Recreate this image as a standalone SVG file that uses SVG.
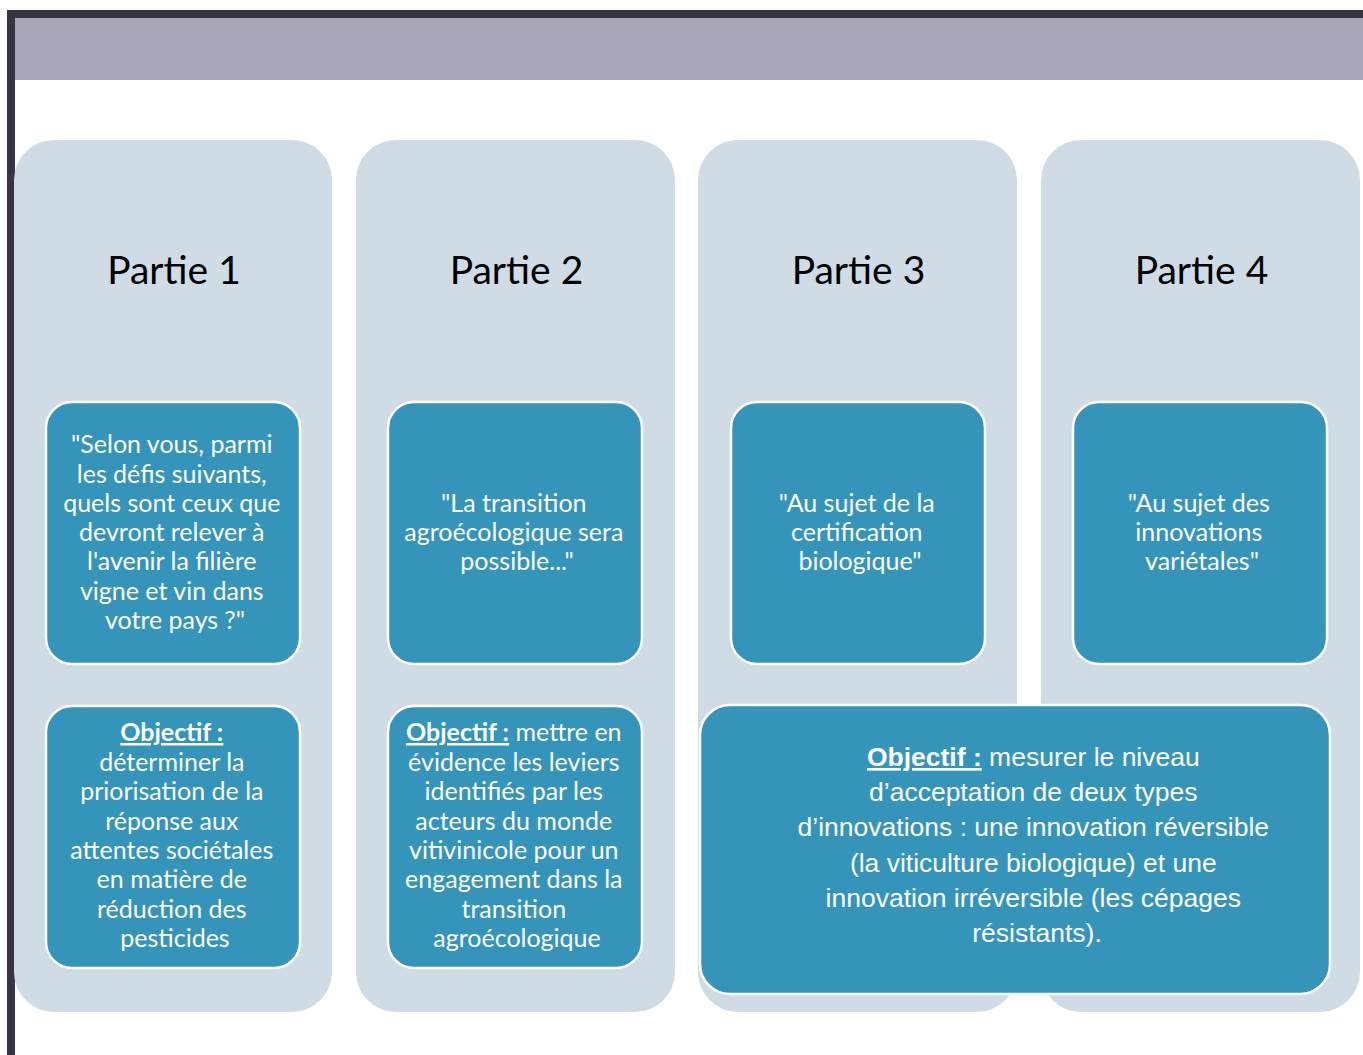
<svg xmlns="http://www.w3.org/2000/svg" width="1363" height="1055" viewBox="0 0 1363 1055">
<style>
.col{fill:#CFDCE6}
.box{fill:#3594BA;stroke:#FFFFFF;stroke-width:2.5}
.title{font-family:Lato,"Open Sans",sans-serif;font-size:39px;fill:#000;text-anchor:middle}
.t{font-family:Lato,"Open Sans",sans-serif;font-size:25px;fill:#FFFFFF;text-anchor:middle}
.a{font-family:"Liberation Sans",Arial,sans-serif;font-size:26.5px;fill:#FFFFFF;text-anchor:middle}
.b{font-weight:bold;text-decoration:underline}
</style>
<rect x="0" y="0" width="1363" height="1055" fill="#FFFFFF"/>
<g id="frame">
<rect x="7" y="10" width="1356" height="8" fill="#363445"/>
<rect x="7" y="10" width="8" height="1045" fill="#363445"/>
<rect x="15" y="18" width="1348" height="62" fill="#A9A6BA"/>
</g>
<g id="partie1">
<rect class="col" x="14" y="140" width="318" height="872" rx="40"/>
<text class="title" x="174" y="284">Partie 1</text>
</g>
<g id="partie2">
<rect class="col" x="356" y="140" width="319" height="872" rx="40"/>
<text class="title" x="516.5" y="284">Partie 2</text>
</g>
<g id="partie3">
<rect class="col" x="698" y="140" width="319" height="872" rx="40"/>
<text class="title" x="858.5" y="284">Partie 3</text>
</g>
<g id="partie4">
<rect class="col" x="1041" y="140" width="319" height="872" rx="40"/>
<text class="title" x="1201.5" y="284">Partie 4</text>
</g>
<g id="q1">
<rect class="box" x="46" y="402" width="254" height="262" rx="26"/>
<text class="t">
<tspan x="175" y="453">"Selon vous, parmi</tspan>
<tspan x="175" y="483">les défis suivants,</tspan>
<tspan x="175" y="512">quels sont ceux que</tspan>
<tspan x="175" y="541">devront relever à</tspan>
<tspan x="175" y="570">l'avenir la filière</tspan>
<tspan x="175" y="600">vigne et vin dans</tspan>
<tspan x="175" y="629">votre pays ?"</tspan>
</text>
</g>
<g id="q2">
<rect class="box" x="388" y="402" width="254" height="262" rx="26"/>
<text class="t">
<tspan x="517" y="512">"La transition</tspan>
<tspan x="517" y="541">agroécologique sera</tspan>
<tspan x="517" y="570">possible..."</tspan>
</text>
</g>
<g id="q3">
<rect class="box" x="731" y="402" width="254" height="262" rx="26"/>
<text class="t">
<tspan x="860" y="512">"Au sujet de la</tspan>
<tspan x="860" y="541">certification</tspan>
<tspan x="860" y="570">biologique"</tspan>
</text>
</g>
<g id="q4">
<rect class="box" x="1073" y="402" width="254" height="262" rx="26"/>
<text class="t">
<tspan x="1202" y="512">"Au sujet des</tspan>
<tspan x="1202" y="541">innovations</tspan>
<tspan x="1202" y="570">variétales"</tspan>
</text>
</g>
<g id="obj1">
<rect class="box" x="46" y="706" width="254" height="262" rx="26"/>
<text class="t">
<tspan x="175" y="741" class="b">Objectif :</tspan>
<tspan x="175" y="771">déterminer la</tspan>
<tspan x="175" y="800">priorisation de la</tspan>
<tspan x="175" y="830">réponse aux</tspan>
<tspan x="175" y="859">attentes sociétales</tspan>
<tspan x="175" y="888">en matière de</tspan>
<tspan x="175" y="918">réduction des</tspan>
<tspan x="175" y="947">pesticides</tspan>
</text>
</g>
<g id="obj2">
<rect class="box" x="388" y="706" width="254" height="262" rx="26"/>
<text class="t">
<tspan x="517" y="741"><tspan class="b">Objectif :</tspan> mettre en</tspan>
<tspan x="517" y="771">évidence les leviers</tspan>
<tspan x="517" y="800">identifiés par les</tspan>
<tspan x="517" y="830">acteurs du monde</tspan>
<tspan x="517" y="859">vitivinicole pour un</tspan>
<tspan x="517" y="888">engagement dans la</tspan>
<tspan x="517" y="918">transition</tspan>
<tspan x="517" y="947">agroécologique</tspan>
</text>
</g>
<g id="obj34">
<rect class="box" x="700" y="705" width="630" height="289" rx="30"/>
<text class="a">
<tspan x="1037" y="766"><tspan class="b">Objectif :</tspan> mesurer le niveau</tspan>
<tspan x="1037" y="801">d’acceptation de deux types</tspan>
<tspan x="1037" y="836">d’innovations : une innovation réversible</tspan>
<tspan x="1037" y="872">(la viticulture biologique) et une</tspan>
<tspan x="1037" y="907">innovation irréversible (les cépages</tspan>
<tspan x="1037" y="942">résistants).</tspan>
</text>
</g>
<g id="connectors"/>
</svg>
